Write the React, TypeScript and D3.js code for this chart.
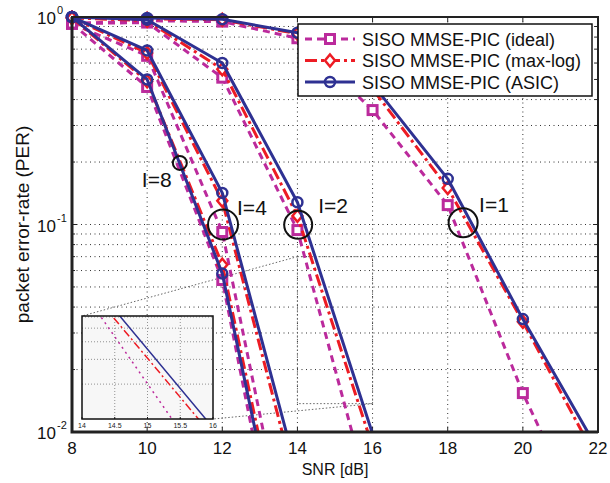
import React, { useEffect, useRef } from "react";
import * as d3 from "d3";

// SNR grid of the simulation points
const snr = [8, 10, 12, 14, 16, 18, 20, 22];
const xTicks = [8, 10, 12, 14, 16, 18, 20, 22];
const yTicks = [1, 0.1, 0.01];
const yTickExp = ["0", "-1", "-2"];

// PER per iteration count (I) and detector variant
const iter1Ideal = [0.93, 0.96, 0.95, 0.79, 0.356, 0.124, 0.0154, 0.0026];
const iter1MaxLog = [0.99, 0.98, 0.97, 0.83, 0.45, 0.15, 0.034, 0.0072];
const iter1Asic = [1.0, 0.99, 0.975, 0.84, 0.475, 0.166, 0.035, 0.0082];

const iter2Ideal = [0.93, 0.94, 0.51, 0.094, 0.0043];
const iter2MaxLog = [0.99, 0.96, 0.56, 0.11, 0.0085];
const iter2Asic = [1.0, 0.97, 0.6, 0.128, 0.0098];

const iter4Ideal = [0.93, 0.65, 0.092, 0.0016];
const iter4MaxLog = [0.99, 0.67, 0.13, 0.0052];
const iter4Asic = [1.0, 0.69, 0.142, 0.0063];

const iter8Ideal = [0.93, 0.46, 0.054, 0.0008];
const iter8MaxLog = [0.99, 0.49, 0.064, 0.0013];
const iter8Asic = [1.0, 0.5, 0.058, 0.0011];

const seriesNames = [
  "SISO MMSE-PIC (ideal)",
  "SISO MMSE-PIC (max-log)",
  "SISO MMSE-PIC (ASIC)",
];

// iteration annotations (circle centre in data units)
const iterLabels = ["I=1", "I=2", "I=4", "I=8"];
const iterMarkSnr = [18.41, 14.02, 12.02, 10.87];
const iterMarkPer = [0.102, 0.0996, 0.1, 0.198];

// zoomed inset
const insetTicks = [14, 14.5, 15, 15.5, 16];
const zoomSnr = [14, 16];
const zoomPer = [0.0137, 0.07];
const insetPer = [0.0113, 0.061];

const W = 610;
const H = 483;
const M = { left: 72, right: 598, top: 17, bottom: 432 };
const colors = ["#bb2a9c", "#ed1c24", "#2e3192"];
const dashes = ["7,5", "12,4,3,4", null];
const FONT = "'Liberation Sans', Arial, Helvetica, sans-serif";

function App() {
  const ref = useRef<SVGSVGElement>(null);

  useEffect(() => {
    const svg = d3.select(ref.current);
    svg.selectAll("*").remove();

    const x = d3.scaleLinear().domain([8, 22]).range([M.left, M.right]);
    const y = d3.scaleLog().domain([0.01, 1]).range([M.bottom, M.top]);

    svg.append("rect").attr("width", W).attr("height", H).attr("fill", "white");

    const defs = svg.append("defs");
    defs
      .append("clipPath")
      .attr("id", "plotClip")
      .append("rect")
      .attr("x", M.left)
      .attr("y", M.top)
      .attr("width", M.right - M.left)
      .attr("height", M.bottom - M.top);

    // grid
    const grid = svg.append("g").attr("stroke", "#333").attr("stroke-width", 1).attr("stroke-dasharray", "1,3.5");
    xTicks.slice(1, -1).forEach((t) => {
      grid.append("line").attr("x1", x(t)).attr("x2", x(t)).attr("y1", M.top).attr("y2", M.bottom);
    });
    const minor: number[] = [];
    [0.01, 0.1].forEach((dec) => {
      for (let k = 1; k <= 9; k++) minor.push(dec * k);
    });
    minor.slice(1).forEach((v) => {
      grid.append("line").attr("x1", M.left).attr("x2", M.right).attr("y1", y(v)).attr("y2", y(v));
    });

    // ticks (inward, all sides)
    const ticks = svg.append("g").attr("stroke", "#222").attr("stroke-width", 1);
    xTicks.forEach((t) => {
      ticks.append("line").attr("x1", x(t)).attr("x2", x(t)).attr("y1", M.bottom).attr("y2", M.bottom - 5);
      ticks.append("line").attr("x1", x(t)).attr("x2", x(t)).attr("y1", M.top).attr("y2", M.top + 5);
    });
    minor.forEach((v) => {
      const len = [0.01, 0.1].includes(v) ? 5 : 3;
      ticks.append("line").attr("x1", M.left).attr("x2", M.left + len).attr("y1", y(v)).attr("y2", y(v));
      ticks.append("line").attr("x1", M.right).attr("x2", M.right - len).attr("y1", y(v)).attr("y2", y(v));
    });

    // zoom rectangle and connectors
    const zr = svg.append("g").attr("stroke", "#666").attr("stroke-width", 1).attr("stroke-dasharray", "1.5,2").attr("fill", "none");
    zr.append("rect")
      .attr("x", x(zoomSnr[0]))
      .attr("y", y(zoomPer[1]))
      .attr("width", x(zoomSnr[1]) - x(zoomSnr[0]))
      .attr("height", y(zoomPer[0]) - y(zoomPer[1]));

    const inset = { left: 82, right: 213, top: 316, bottom: 419 };
    zr.append("line").attr("x1", x(zoomSnr[0])).attr("y1", y(zoomPer[1])).attr("x2", inset.left).attr("y2", inset.top);
    zr.append("line").attr("x1", x(zoomSnr[1])).attr("y1", y(zoomPer[0])).attr("x2", inset.right).attr("y2", inset.bottom);

    const groups = [
      [iter1Ideal, iter1MaxLog, iter1Asic],
      [iter2Ideal, iter2MaxLog, iter2Asic],
      [iter4Ideal, iter4MaxLog, iter4Asic],
      [iter8Ideal, iter8MaxLog, iter8Asic],
    ];

    const drawMarker = (g: any, v: number, cx: number, cy: number) => {
      if (v === 0) {
        g.append("rect").attr("x", cx - 4.5).attr("y", cy - 4.5).attr("width", 9).attr("height", 9)
          .attr("fill", "white").attr("stroke", colors[0]).attr("stroke-width", 3);
      } else if (v === 1) {
        g.append("path").attr("d", `M${cx},${cy - 6}L${cx + 5},${cy}L${cx},${cy + 6}L${cx - 5},${cy}Z`)
          .attr("fill", "white").attr("stroke", colors[1]).attr("stroke-width", 2.5);
      } else {
        g.append("circle").attr("cx", cx).attr("cy", cy).attr("r", 5)
          .attr("fill", "none").attr("stroke", colors[2]).attr("stroke-width", 2.5);
      }
    };

    const line = d3
      .line<[number, number]>()
      .x((d) => x(d[0]))
      .y((d) => y(d[1]));

    const plot = svg.append("g");
    [0, 1, 2].forEach((v) => {
      groups.forEach((grp) => {
        const pts = grp[v].map((p, i) => [snr[i], p] as [number, number]);
        plot
          .append("path")
          .attr("d", line(pts))
          .attr("clip-path", "url(#plotClip)")
          .attr("fill", "none")
          .attr("stroke", colors[v])
          .attr("stroke-width", 3)
          .attr("stroke-linejoin", "round")
          .attr("stroke-dasharray", dashes[v]);
        pts
          .filter((d) => d[1] >= 0.01)
          .forEach((d) => drawMarker(plot, v, x(d[0]), y(d[1])));
      });
    });

    // iteration annotations
    const ann = svg.append("g");
    const annR = [14.5, 14, 15, 7];
    const annDx = [16, 20, 14, 4];
    const annDy = [-11, -12, -10, 24];
    iterLabels.forEach((lab, i) => {
      const cx = x(iterMarkSnr[i]);
      const cy = y(iterMarkPer[i]);
      ann.append("circle").attr("cx", cx).attr("cy", cy).attr("r", annR[i])
        .attr("fill", "none").attr("stroke", "#111").attr("stroke-width", 2);
      ann.append("text")
        .attr("x", i === 3 ? cx - 38 : cx + annDx[i])
        .attr("y", cy + annDy[i])
        .attr("font-family", FONT)
        .attr("font-size", 21)
        .attr("fill", "#111")
        .text(lab);
    });

    // inset
    const ix = d3.scaleLinear().domain([14, 16]).range([inset.left, inset.right]);
    const iy = d3.scaleLog().domain(insetPer).range([inset.bottom, inset.top]);
    defs
      .append("clipPath")
      .attr("id", "insetClip")
      .append("rect")
      .attr("x", inset.left)
      .attr("y", inset.top)
      .attr("width", inset.right - inset.left)
      .attr("height", inset.bottom - inset.top);
    const ig = svg.append("g");
    ig.append("rect")
      .attr("x", inset.left)
      .attr("y", inset.top)
      .attr("width", inset.right - inset.left)
      .attr("height", inset.bottom - inset.top)
      .attr("fill", "#f7f7f7");
    const igrid = ig.append("g").attr("stroke", "#777").attr("stroke-width", 0.8).attr("stroke-dasharray", "1,2");
    insetTicks.slice(1, -1).forEach((t) => {
      igrid.append("line").attr("x1", ix(t)).attr("x2", ix(t)).attr("y1", inset.top).attr("y2", inset.bottom);
    });
    [0.02, 0.03, 0.04, 0.05, 0.06].forEach((v) => {
      igrid.append("line").attr("x1", inset.left).attr("x2", inset.right).attr("y1", iy(v)).attr("y2", iy(v));
    });
    const iline = d3
      .line<[number, number]>()
      .x((d) => ix(d[0]))
      .y((d) => iy(d[1]));
    const iDash = ["2,4", "8,3,2,3", null];
    [0, 1, 2].forEach((v) => {
      const pts = groups[1][v].map((p, i) => [snr[i], p] as [number, number]);
      ig.append("path")
        .attr("d", iline(pts))
        .attr("clip-path", "url(#insetClip)")
        .attr("fill", "none")
        .attr("stroke", colors[v])
        .attr("stroke-width", 1.5)
        .attr("stroke-dasharray", iDash[v]);
    });
    ig.append("rect")
      .attr("x", inset.left)
      .attr("y", inset.top)
      .attr("width", inset.right - inset.left)
      .attr("height", inset.bottom - inset.top)
      .attr("fill", "none")
      .attr("stroke", "#111")
      .attr("stroke-width", 1.5);
    insetTicks.forEach((t) => {
      ig.append("line").attr("x1", ix(t)).attr("x2", ix(t)).attr("y1", inset.bottom).attr("y2", inset.bottom - 2).attr("stroke", "#111");
      ig.append("text")
        .attr("x", ix(t))
        .attr("y", inset.bottom + 9)
        .attr("text-anchor", "middle")
        .attr("font-family", FONT)
        .attr("font-size", 7)
        .attr("fill", "#222")
        .text(String(t));
    });

    // legend
    const lg = svg.append("g");
    const L = { x: 298, y: 24, w: 294, h: 72 };
    lg.append("rect").attr("x", L.x).attr("y", L.y).attr("width", L.w).attr("height", L.h)
      .attr("fill", "white").attr("stroke", "#111").attr("stroke-width", 1.5);
    seriesNames.forEach((name, i) => {
      const ry = L.y + 15 + i * 21.5;
      lg.append("line").attr("x1", L.x + 7).attr("x2", L.x + 57).attr("y1", ry).attr("y2", ry)
        .attr("stroke", colors[i]).attr("stroke-width", 3).attr("stroke-dasharray", dashes[i]);
      drawMarker(lg, i, L.x + 32, ry);
      lg.append("text")
        .attr("x", L.x + 64)
        .attr("y", ry + 6.5)
        .attr("font-family", FONT)
        .attr("font-size", 18)
        .attr("fill", "#111")
        .text(name);
    });

    // frame
    svg.append("rect")
      .attr("x", M.left)
      .attr("y", M.top)
      .attr("width", M.right - M.left)
      .attr("height", M.bottom - M.top)
      .attr("fill", "none")
      .attr("stroke", "#222")
      .attr("stroke-width", 2);
    svg.append("path")
      .attr("d", `M${M.left},${M.top}V${M.bottom}H${M.right}`)
      .attr("fill", "none")
      .attr("stroke", "#222")
      .attr("stroke-width", 3);

    // tick labels
    xTicks.forEach((t) => {
      svg.append("text")
        .attr("x", x(t))
        .attr("y", M.bottom + 22)
        .attr("text-anchor", "middle")
        .attr("font-family", FONT)
        .attr("font-size", 17)
        .attr("fill", "#111")
        .text(String(t));
    });
    yTicks.forEach((t, i) => {
      const ty = y(t);
      svg.append("text")
        .attr("x", M.left - 16)
        .attr("y", ty + 7)
        .attr("text-anchor", "end")
        .attr("font-family", FONT)
        .attr("font-size", 17)
        .attr("fill", "#111")
        .text("10");
      svg.append("text")
        .attr("x", M.left - 15)
        .attr("y", ty - 3)
        .attr("font-family", FONT)
        .attr("font-size", 11)
        .attr("fill", "#111")
        .text(yTickExp[i]);
    });

    // axis labels
    svg.append("text")
      .attr("x", (M.left + M.right) / 2)
      .attr("y", 475)
      .attr("text-anchor", "middle")
      .attr("font-family", FONT)
      .attr("font-size", 16)
      .attr("fill", "#111")
      .text("SNR [dB]");
    svg.append("text")
      .attr("transform", `translate(29,${(M.top + M.bottom) / 2}) rotate(-90)`)
      .attr("text-anchor", "middle")
      .attr("font-family", FONT)
      .attr("font-size", 19)
      .attr("fill", "#111")
      .text("packet error-rate (PER)");
  }, []);

  return (
    <svg
      ref={ref}
      width={W}
      height={H}
      style={{ position: "absolute", left: 0, top: 0, display: "block" }}
    ></svg>
  );
}

export default App;
